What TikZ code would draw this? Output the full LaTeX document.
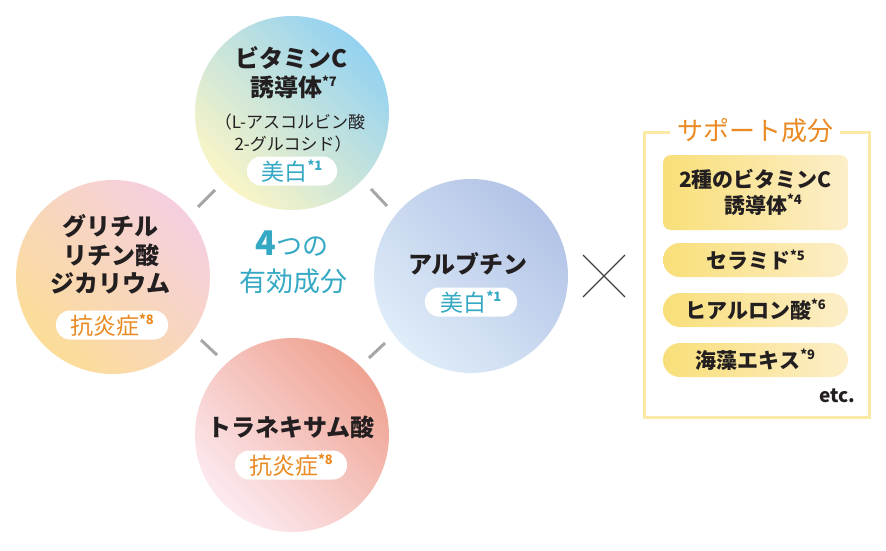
\documentclass[tikz,border=0pt]{standalone}
\usepackage{fontspec}
\setmainfont{Noto Sans CJK JP}
\definecolor{topB}{HTML}{94D2F1}
\definecolor{topY}{HTML}{FAF5C6}
\definecolor{leftP}{HTML}{F5CFE0}
\definecolor{leftY}{HTML}{FBDD98}
\definecolor{rightB}{HTML}{B3C3E6}
\definecolor{rightL}{HTML}{DFECF9}
\definecolor{botS}{HTML}{EFA392}
\definecolor{botP}{HTML}{FCEAF0}
\definecolor{tealC}{HTML}{35A9C4}
\definecolor{orangeC}{HTML}{EA8A22}
\definecolor{segC}{HTML}{A6A6A6}
\definecolor{frameC}{HTML}{FBE9A8}
\definecolor{boxL}{HTML}{F9DF79}
\definecolor{boxR}{HTML}{FCEEC9}
\definecolor{darkT}{HTML}{231F20}
\newcommand\mysup[1]{\rlap{\raisebox{0.42em}{\fontsize{13}{13}\selectfont *#1}}}
\newcommand\pillsup[1]{\raisebox{0.42em}{\fontsize{13}{13}\selectfont\bfseries *#1}}
\begin{document}
\begin{tikzpicture}[x=1pt,y=-1pt,
  circ/.style={circle, minimum size=194pt, inner sep=0pt, outer sep=0pt},
  ttl/.style={font=\fontsize{24}{24}\selectfont\bfseries, text=darkT, inner sep=0pt},
  subt/.style={font=\fontsize{17}{17}\selectfont, text=darkT, inner sep=0pt},
  pill/.style={fill=white, rounded corners=14pt, minimum height=29pt, inner sep=0pt, font=\fontsize{23}{23}\selectfont},
  seg/.style={draw=segC, line width=3pt},
  sbox/.style={rounded corners=#1, left color=boxL, right color=boxR, minimum width=185pt, inner sep=0pt, font=\fontsize{21}{26}\selectfont\bfseries, text=darkT, align=center},
  crossln/.style={draw=darkT!85, line width=1.1pt}]
\useasboundingbox (0,0) rectangle (886,551);
\fill[white] (0,0) rectangle (886,551);
% circles
\node[circ, top color=topB, bottom color=topY, shading angle=-45] (top) at (292,113) {};
\node[circ, top color=leftP, bottom color=leftY, shading angle=-45] (left) at (113,277) {};
\node[circ, top color=rightB, bottom color=rightL, shading angle=-45] (right) at (471,276) {};
\node[circ, top color=botS, bottom color=botP, shading angle=-45] (bot) at (292,435) {};
% connector segments
\coordinate (s1a) at (198,207); \coordinate (s1b) at (215,190);
\coordinate (s2a) at (371,189); \coordinate (s2b) at (387,206);
\coordinate (s3a) at (201,340); \coordinate (s3b) at (217,355);
\coordinate (s4a) at (369,358); \coordinate (s4b) at (385,343);
\draw[seg] (s1a) -- (s1b);
\draw[seg] (s2a) -- (s2b);
\draw[seg] (s3a) -- (s3b);
\draw[seg] (s4a) -- (s4b);
% top circle text
\node[ttl] (tA) at (292,58) {ビタミンC};
\node[ttl] (tB) at (286,87) {誘導体\mysup{7}};
\node[subt] (tC) at (290,122) {（L-アスコルビン酸};
\node[subt] (tD) at (293,144) {2-グルコシド）};
\node[pill, minimum width=90pt, text=tealC] (p1) at (292,171) {美白\pillsup{1}};
% left circle text
\node[ttl] (lA) at (110,226) {グリチル};
\node[ttl] (lB) at (111,255) {リチン酸};
\node[ttl] (lC) at (110,283) {ジカリウム};
\node[pill, minimum width=112pt, text=orangeC] (p2) at (112,325) {抗炎症\pillsup{8}};
% right circle text
\node[ttl] (rA) at (468,264) {アルブチン};
\node[pill, minimum width=92pt, text=tealC] (p3) at (471,302) {美白\pillsup{1}};
% bottom circle text
\node[ttl] (bA) at (291,427) {トラネキサム酸};
\node[pill, minimum width=112pt, text=orangeC] (p4) at (291,465) {抗炎症\pillsup{8}};
% center text
\node[text=tealC, inner sep=0pt] (cA) at (292,244) {{\fontsize{34}{34}\selectfont\bfseries 4}{\fontsize{26}{26}\selectfont つの}};
\node[text=tealC, inner sep=0pt, font=\fontsize{27}{27}\selectfont] (cB) at (293,281) {有効成分};
% cross
\coordinate (x1) at (583,255);
\coordinate (x2) at (625,297);
\coordinate (x3) at (625,255);
\coordinate (x4) at (583,297);
\draw[crossln] (x1) -- (x2);
\draw[crossln] (x3) -- (x4);
% support box
\draw[frameC, line width=3pt] (644,132) rectangle (869,417);
\node[fill=white, text=orangeC, inner xsep=7pt, inner ysep=2pt, font=\fontsize{26}{26}\selectfont] (title) at (755,131) {サポート成分};
\node[sbox=8pt, minimum height=75pt] (b1) at (755.5,192.5) {2種のビタミンC\\誘導体\mysup{4}};
\node[sbox=17pt, minimum height=34pt] (b2) at (755.5,260) {セラミド\pillsup{5}};
\node[sbox=17pt, minimum height=34pt] (b3) at (755.5,310) {ヒアルロン酸\pillsup{6}};
\node[sbox=17pt, minimum height=34pt] (b4) at (755.5,360) {海藻エキス\pillsup{9}};
\node[font=\fontsize{19}{19}\selectfont\bfseries, text=darkT, inner sep=0pt] (etc) at (837,396) {etc.};
\end{tikzpicture}
\end{document}
